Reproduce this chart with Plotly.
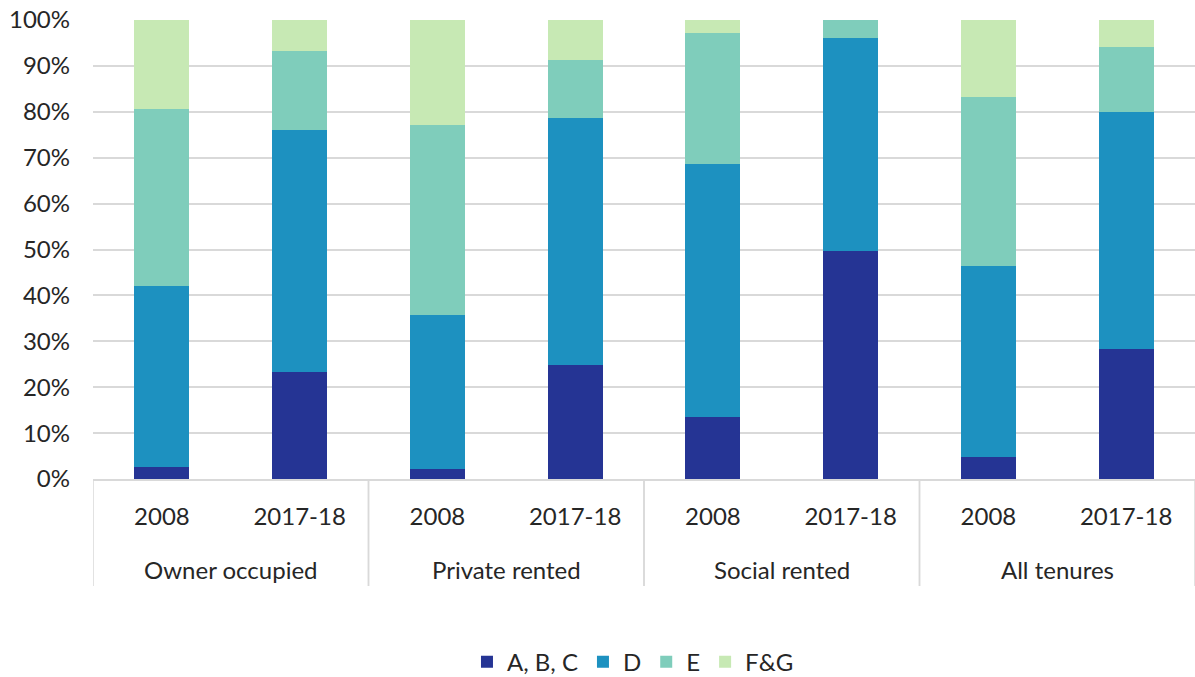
import plotly.graph_objects as go

tenures = ["Owner occupied", "Owner occupied", "Private rented", "Private rented",
           "Social rented", "Social rented", "All tenures", "All tenures"]
years = ["2008", "2017-18", "2008", "2017-18", "2008", "2017-18", "2008", "2017-18"]

abc = [2.7, 23.4, 2.1, 24.8, 13.4, 49.6, 4.7, 28.3]
d = [39.4, 52.7, 33.6, 53.8, 55.2, 46.5, 41.7, 51.6]
e = [38.5, 17.1, 41.4, 12.6, 28.5, 3.9, 36.8, 14.2]
fg = [19.4, 6.8, 22.9, 8.8, 2.9, 0.0, 16.8, 5.9]

series = [("A, B, C", abc, "#253494"), ("D", d, "#1d91c0"),
          ("E", e, "#7fcdbb"), ("F&G", fg, "#c7e9b4")]

cats = [f"{t} {y}" for t, y in zip(tenures, years)]
groups = list(dict.fromkeys(tenures))

fig = go.Figure()
for name, vals, col in series:
    fig.add_trace(go.Bar(x=cats, y=vals, name=name,
                         marker=dict(color=col, line=dict(width=0))))

GRID = "#d9d9d9"
plot_h = 677 - 20 - 198
label_y = (479 - 569) / plot_h
div_y = (479 - 586) / plot_h

annotations = []
shapes = []
for gi, g in enumerate(groups):
    idx = [i for i, t in enumerate(tenures) if t == g]
    annotations.append(dict(x=sum(idx) / len(idx), y=label_y, xref="x", yref="paper",
                            text=g, showarrow=False, yanchor="middle",
                            font=dict(size=24, color="#262626")))
    for b in (min(idx) - 0.5, max(idx) + 0.5):
        shapes.append(dict(type="line", xref="x", yref="paper", x0=b, x1=b,
                           y0=0, y1=div_y, line=dict(color=GRID, width=1.5)))

fig.update_layout(
    barmode="stack", bargap=0.6,
    width=1195, height=677,
    margin=dict(l=93, r=0, t=20, b=198, autoexpand=False),
    paper_bgcolor="white", plot_bgcolor="white",
    font=dict(family="Lato", size=24, color="#262626"),
    legend=dict(orientation="h", x=0.49, xanchor="center", yref="container",
                y=0.022, yanchor="middle", font=dict(size=24), itemwidth=30,
                traceorder="normal"),
    annotations=annotations, shapes=shapes,
    showlegend=True,
)
fig.update_yaxes(range=[0, 100], dtick=10, ticksuffix="%", showgrid=True,
                 gridcolor=GRID, gridwidth=1.5, zeroline=False,
                 ticks="", tickfont=dict(size=24), ticklabelstandoff=22,
                 fixedrange=True)
fig.update_xaxes(type="category", tickvals=cats, ticktext=years,
                 showline=True, linecolor=GRID, linewidth=1.5,
                 tickfont=dict(size=24), ticks="", ticklabelstandoff=15,
                 range=[-0.5, len(cats) - 0.5])
fig.write_html("out.html")
